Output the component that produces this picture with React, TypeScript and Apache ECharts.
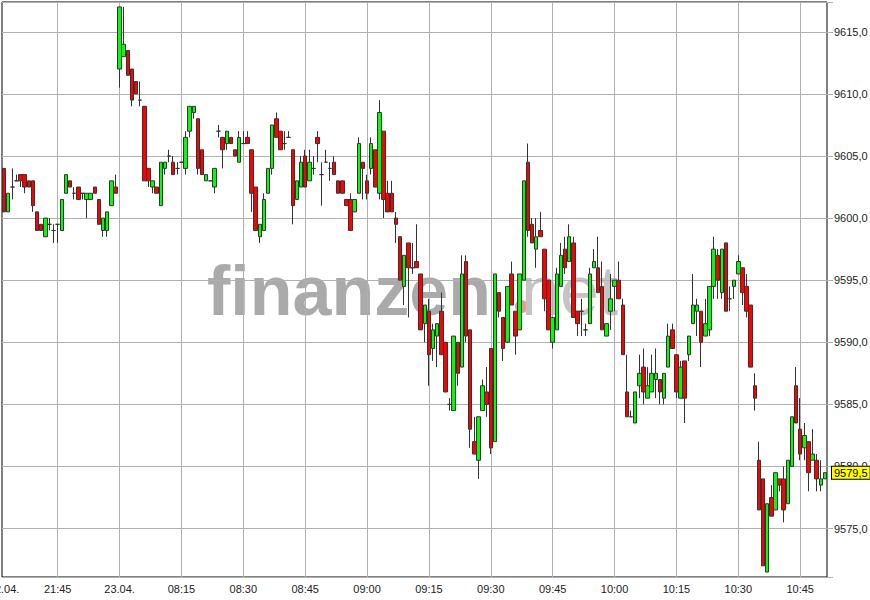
import React, { useEffect, useRef } from 'react';
import * as echarts from 'echarts';

// Minute candles: 22.04. evening session end + 23.04. morning
const opens = [
  9604.0, 9600.5, 9602.5, 9603.0, 9603.5, 9603.5, 9603.0, 9603.0, 9600.5, 9599.5,
  9598.5, 9599.5, 9599.0, 9599.5, 9599.0, 9602.0, 9603.0, 9602.0, 9602.5, 9602.0,
  9601.5, 9601.5, 9602.5, 9601.5, 9599.0, 9599.0, 9601.0, 9602.5, 9612.0, 9613.0,
  9613.5, 9612.0, 9611.0, 9609.5, 9609.0, 9604.0, 9602.5, 9602.5, 9601.0, 9604.0,
  9605.0, 9604.5, 9604.0, 9604.5, 9604.0, 9607.0, 9608.5, 9608.0, 9605.5, 9603.0,
  9603.0, 9602.5, 9607.0, 9606.5, 9606.0, 9606.5, 9605.5, 9604.5, 9606.0, 9606.5,
  9605.5, 9602.5, 9598.5, 9599.0, 9602.0, 9604.0, 9608.0, 9607.0, 9606.0, 9606.5,
  9605.5, 9601.5, 9602.5, 9605.0, 9603.0, 9604.0, 9606.5, 9603.5, 9604.5, 9604.0,
  9604.5, 9603.0, 9603.0, 9601.5, 9601.5, 9600.5, 9602.0, 9604.5, 9603.0, 9604.0,
  9605.5, 9602.0, 9607.0, 9602.0, 9602.0, 9600.0, 9598.5, 9594.5, 9598.0, 9596.0,
  9596.5, 9595.5, 9591.5, 9592.5, 9589.5, 9590.5, 9592.5, 9590.0, 9585.0, 9584.5,
  9590.0, 9588.0, 9596.5, 9591.0, 9582.0, 9580.5, 9584.5, 9586.0, 9589.5, 9582.0,
  9594.0, 9592.0, 9590.0, 9595.5, 9592.5, 9591.0, 9595.0, 9604.5, 9599.5, 9597.5,
  9599.0, 9597.5, 9595.0, 9590.0, 9591.0, 9594.5, 9597.5, 9596.5, 9598.0, 9592.5,
  9592.5, 9591.0, 9591.5, 9596.0, 9596.0, 9594.5, 9590.5, 9592.5, 9594.5, 9595.0,
  9593.0, 9586.0, 9584.0, 9583.5, 9586.5, 9588.0, 9585.5, 9586.0, 9587.0, 9587.0,
  9585.5, 9588.0, 9591.0, 9589.0, 9585.5, 9588.5, 9589.0, 9591.5, 9592.5, 9592.5,
  9590.5, 9591.0, 9594.5, 9597.0, 9594.0, 9598.0, 9593.5, 9594.5, 9595.5, 9596.0,
  9594.5, 9593.0, 9586.5, 9580.5, 9579.0, 9571.5, 9577.5, 9576.5, 9579.0, 9579.0,
  9577.0, 9580.0, 9586.5, 9583.0, 9581.5, 9582.0, 9580.5, 9580.5, 9578.5, 9579.0,
];
const closes = [
  9600.5, 9602.0, 9602.5, 9603.0, 9603.0, 9602.5, 9602.5, 9601.0, 9599.0, 9599.0,
  9600.0, 9599.5, 9599.0, 9599.5, 9601.5, 9603.5, 9602.5, 9602.0, 9601.5, 9602.0,
  9602.0, 9602.0, 9602.0, 9599.5, 9600.0, 9600.5, 9603.0, 9602.0, 9617.0, 9614.0,
  9611.5, 9609.5, 9610.0, 9609.5, 9603.0, 9603.0, 9603.0, 9602.0, 9604.5, 9604.5,
  9605.0, 9603.5, 9604.0, 9604.5, 9606.5, 9609.0, 9609.0, 9604.0, 9603.5, 9603.5,
  9603.0, 9604.0, 9607.0, 9605.5, 9607.0, 9606.0, 9605.0, 9606.5, 9606.0, 9606.0,
  9602.0, 9599.0, 9599.5, 9601.5, 9604.0, 9607.5, 9606.5, 9605.5, 9606.0, 9606.5,
  9601.0, 9603.0, 9604.5, 9602.5, 9604.5, 9604.0, 9606.0, 9603.5, 9604.5, 9604.0,
  9603.5, 9602.0, 9602.0, 9601.0, 9599.0, 9601.5, 9606.0, 9604.0, 9602.0, 9606.0,
  9602.5, 9608.5, 9601.5, 9600.5, 9600.5, 9599.5, 9595.0, 9597.0, 9596.0, 9596.0,
  9596.0, 9591.0, 9593.0, 9589.0, 9591.0, 9591.5, 9589.0, 9586.0, 9585.0, 9590.5,
  9587.5, 9595.5, 9590.5, 9583.0, 9581.0, 9584.0, 9586.5, 9585.0, 9581.5, 9595.5,
  9592.5, 9589.5, 9594.5, 9593.0, 9590.5, 9595.5, 9603.0, 9599.0, 9598.0, 9598.5,
  9598.5, 9593.5, 9591.0, 9592.0, 9595.5, 9597.0, 9596.0, 9598.5, 9592.0, 9591.5,
  9592.5, 9591.0, 9595.5, 9596.5, 9594.0, 9591.0, 9591.5, 9593.5, 9595.0, 9593.5,
  9589.0, 9584.0, 9584.0, 9586.0, 9587.5, 9586.0, 9586.5, 9587.5, 9587.5, 9586.0,
  9587.5, 9590.5, 9589.5, 9586.0, 9588.0, 9585.5, 9590.5, 9593.0, 9593.0, 9590.0,
  9591.5, 9594.5, 9597.5, 9595.0, 9597.5, 9592.5, 9593.5, 9595.0, 9596.5, 9594.0,
  9592.5, 9588.0, 9585.5, 9576.5, 9572.0, 9577.0, 9576.0, 9579.5, 9578.5, 9576.5,
  9580.5, 9584.0, 9583.5, 9581.0, 9582.5, 9579.5, 9581.0, 9579.0, 9579.0, 9579.5,
];
const lows = [
  9600.5, 9600.5, 9601.5, 9603.0, 9602.5, 9602.0, 9602.5, 9600.5, 9599.0, 9599.0,
  9598.5, 9599.0, 9598.0, 9598.0, 9599.0, 9602.0, 9602.5, 9601.5, 9601.5, 9601.5,
  9600.0, 9601.5, 9602.0, 9599.5, 9598.5, 9598.5, 9601.0, 9602.0, 9610.5, 9613.0,
  9611.5, 9609.0, 9610.0, 9609.0, 9603.0, 9602.5, 9602.0, 9602.0, 9601.0, 9603.5,
  9604.5, 9603.5, 9603.5, 9604.5, 9603.5, 9606.5, 9608.0, 9603.5, 9603.5, 9603.0,
  9603.0, 9602.0, 9606.5, 9604.0, 9605.5, 9606.0, 9605.0, 9604.5, 9606.0, 9606.0,
  9600.5, 9599.0, 9598.0, 9599.0, 9602.0, 9603.5, 9606.5, 9605.5, 9605.5, 9606.5,
  9599.5, 9601.5, 9602.5, 9602.5, 9603.0, 9603.5, 9604.5, 9601.0, 9604.5, 9603.0,
  9603.5, 9602.0, 9602.0, 9601.0, 9599.0, 9600.5, 9602.0, 9601.5, 9601.5, 9603.5,
  9602.5, 9601.5, 9600.0, 9600.5, 9600.5, 9598.0, 9595.0, 9593.0, 9592.0, 9595.5,
  9596.0, 9591.0, 9590.0, 9586.5, 9588.5, 9588.0, 9589.0, 9586.0, 9584.5, 9584.5,
  9586.5, 9588.0, 9590.0, 9581.5, 9581.0, 9579.0, 9584.5, 9584.0, 9581.0, 9582.0,
  9592.0, 9588.5, 9590.0, 9593.0, 9589.0, 9591.0, 9595.0, 9598.5, 9598.0, 9596.0,
  9598.5, 9592.5, 9591.0, 9589.5, 9591.0, 9594.5, 9595.5, 9596.5, 9592.0, 9590.5,
  9590.5, 9590.5, 9591.5, 9596.0, 9594.0, 9591.0, 9590.5, 9591.0, 9592.5, 9593.5,
  9589.0, 9584.0, 9584.0, 9583.5, 9585.5, 9585.0, 9585.5, 9586.0, 9585.5, 9585.0,
  9585.0, 9588.0, 9589.5, 9585.5, 9585.5, 9583.5, 9588.5, 9591.5, 9590.5, 9588.0,
  9590.5, 9590.5, 9593.5, 9593.5, 9593.5, 9592.5, 9592.5, 9593.5, 9595.5, 9593.0,
  9592.0, 9588.0, 9584.5, 9576.5, 9572.0, 9571.5, 9576.0, 9576.5, 9578.0, 9575.5,
  9577.0, 9580.0, 9583.5, 9580.5, 9580.5, 9578.0, 9580.5, 9578.0, 9578.0, 9579.0,
];
const highs = [
  9604.0, 9602.0, 9604.0, 9603.5, 9603.5, 9603.5, 9603.0, 9603.0, 9600.5, 9599.5,
  9600.0, 9600.0, 9599.5, 9599.5, 9601.5, 9603.5, 9603.0, 9602.5, 9602.5, 9602.0,
  9602.0, 9602.0, 9602.5, 9601.5, 9600.0, 9600.5, 9603.0, 9603.5, 9617.0, 9617.0,
  9613.5, 9612.0, 9611.0, 9611.0, 9609.0, 9604.0, 9603.0, 9602.5, 9604.5, 9604.5,
  9605.5, 9605.0, 9604.5, 9604.5, 9607.0, 9609.0, 9609.0, 9608.0, 9605.5, 9603.5,
  9603.0, 9604.0, 9607.5, 9606.5, 9607.0, 9606.5, 9605.5, 9607.0, 9607.0, 9607.0,
  9605.5, 9602.5, 9599.5, 9602.0, 9604.0, 9607.5, 9608.5, 9607.0, 9607.0, 9607.0,
  9605.5, 9603.0, 9605.0, 9605.5, 9605.5, 9605.0, 9607.0, 9604.5, 9605.5, 9604.5,
  9605.0, 9603.0, 9603.0, 9601.5, 9602.0, 9601.5, 9606.5, 9604.5, 9603.5, 9606.5,
  9605.5, 9609.5, 9607.0, 9603.0, 9603.0, 9600.5, 9598.5, 9597.0, 9598.0, 9598.0,
  9599.5, 9595.5, 9593.0, 9593.5, 9591.5, 9591.5, 9594.0, 9590.0, 9585.5, 9590.5,
  9590.0, 9597.0, 9597.0, 9591.0, 9584.0, 9584.0, 9587.0, 9588.0, 9589.5, 9595.5,
  9594.0, 9592.0, 9594.5, 9596.5, 9592.5, 9595.5, 9603.0, 9606.0, 9600.0, 9600.0,
  9600.5, 9597.5, 9595.0, 9592.0, 9596.0, 9598.0, 9598.5, 9599.5, 9598.5, 9592.5,
  9593.5, 9591.5, 9596.0, 9597.5, 9598.5, 9596.5, 9591.5, 9595.5, 9595.0, 9596.5,
  9593.5, 9589.0, 9584.5, 9586.0, 9589.0, 9589.5, 9588.0, 9589.0, 9589.5, 9587.0,
  9587.5, 9591.5, 9591.5, 9589.0, 9588.5, 9588.5, 9590.5, 9595.5, 9593.5, 9592.5,
  9593.5, 9594.5, 9598.5, 9597.5, 9597.5, 9598.0, 9594.5, 9595.0, 9597.0, 9596.0,
  9595.5, 9593.0, 9587.5, 9582.0, 9579.0, 9577.0, 9578.5, 9579.5, 9579.0, 9580.0,
  9580.5, 9584.0, 9588.0, 9585.5, 9583.5, 9582.0, 9583.0, 9581.0, 9580.5, 9579.5,
];

function minutes(h: number, m: number, count: number): string[] {
  const out: string[] = [];
  for (let k = 0; k < count; k++) {
    const t = h * 60 + m + k;
    const hh = Math.floor(t / 60);
    const mm = t % 60;
    out.push(String(hh).padStart(2, '0') + ':' + String(mm).padStart(2, '0'));
  }
  return out;
}
const categories = [...minutes(21, 32, 28), ...minutes(8, 0, 172)];

const tickLabels: [string, string][] = [
  ['21:32', '22.04.'],
  ['21:45', '21:45'],
  ['08:00', '23.04.'],
  ['08:15', '08:15'],
  ['08:30', '08:30'],
  ['08:45', '08:45'],
  ['09:00', '09:00'],
  ['09:15', '09:15'],
  ['09:30', '09:30'],
  ['09:45', '09:45'],
  ['10:00', '10:00'],
  ['10:15', '10:15'],
  ['10:30', '10:30'],
  ['10:45', '10:45'],
];
const lastPrice = 9579.5;

const FONT = 'Arial, "Liberation Sans", sans-serif';
const fmt = (v: number) => v.toFixed(1).replace('.', ',');

export default function App() {
  const ref = useRef<HTMLDivElement>(null);
  useEffect(() => {
    const chart = echarts.init(ref.current!, null, { renderer: 'svg' });
    const labelMap = new Map(tickLabels);
    const data = categories.map((_, i) => [opens[i], closes[i], lows[i], highs[i]]);
    chart.setOption({
      animation: false,
      backgroundColor: '#ffffff',
      grid: {
        left: 2, right: 43, top: 2, bottom: 23,
        outerBoundsMode: 'none',
        containLabel: false,
        show: true, borderColor: '#000', borderWidth: 1, backgroundColor: 'transparent',
      },
      graphic: [
        {
          type: 'text', x: 207, y: 291, z: -10, silent: true,
          style: { text: 'finanzen', font: 'bold 70px "Liberation Sans", Arial, sans-serif', fill: '#aaaaaa', verticalAlign: 'middle', align: 'left' },
        },
        {
          type: 'circle', z: -10, silent: true,
          shape: { cx: 521.5, cy: 306.5, r: 6.5 },
          style: { fill: '#e69a9a' },
        },
        {
          type: 'text', x: 521, y: 291, z: -10, silent: true,
          style: { text: 'net', font: '70px "Liberation Sans", Arial, sans-serif', fill: '#c4c4c4', verticalAlign: 'middle', align: 'left' },
        },
      ],
      xAxis: {
        type: 'category',
        data: categories,
        boundaryGap: true,
        axisLine: { show: false },
        axisTick: { show: false },
        axisLabel: {
          interval: (_i: number, v: string) => labelMap.has(v),
          formatter: (v: string) => labelMap.get(v) ?? '',
          color: '#222', fontSize: 11, fontFamily: FONT, margin: 6,
          hideOverlap: false,
        },
        splitLine: {
          show: true,
          alignWithLabel: true,
          interval: (i: number, v: string) => i > 0 && labelMap.has(v),
          lineStyle: { color: '#b0b0b0', width: 1 },
        },
      },
      yAxis: {
        type: 'value',
        position: 'right',
        min: 9571.1,
        max: 9617.4,
        splitNumber: 9,
        axisLine: { show: false },
        axisTick: { show: true, length: 6, lineStyle: { color: '#b0b0b0' } },
        axisLabel: {
          margin: 7, color: '#222', fontSize: 11, fontFamily: FONT,
          formatter: (v: number) => (Math.abs(v / 5 - Math.round(v / 5)) < 1e-6 ? fmt(v) : ''),
        },
        splitLine: { show: true, lineStyle: { color: '#b0b0b0', width: 1 } },
      },
      series: [
        {
          type: 'candlestick',
          data,
          barWidth: 4,
          itemStyle: {
            color: '#00ff00', color0: '#ff0000',
            borderColor: '#333333', borderColor0: '#333333', borderColorDoji: '#333333',
            borderWidth: 1,
          },
          markLine: {
            silent: true,
            symbol: 'none',
            z: 1,
            lineStyle: { color: 'transparent', width: 0 },
            label: {
              show: true, position: 'end', distance: 5,
              formatter: fmt(lastPrice),
              backgroundColor: '#ffff00', borderColor: '#000', borderWidth: 1,
              padding: [1, 2, 0, 2], color: '#000', fontSize: 11, fontFamily: FONT,
            },
            data: [{ yAxis: lastPrice }],
          },
        },
      ],
    });
    return () => chart.dispose();
  }, []);
  return (
    <div
      ref={ref}
      style={{ position: 'fixed', left: 0, top: 0, width: 870, height: 600, background: '#fff' }}
    />
  );
}
